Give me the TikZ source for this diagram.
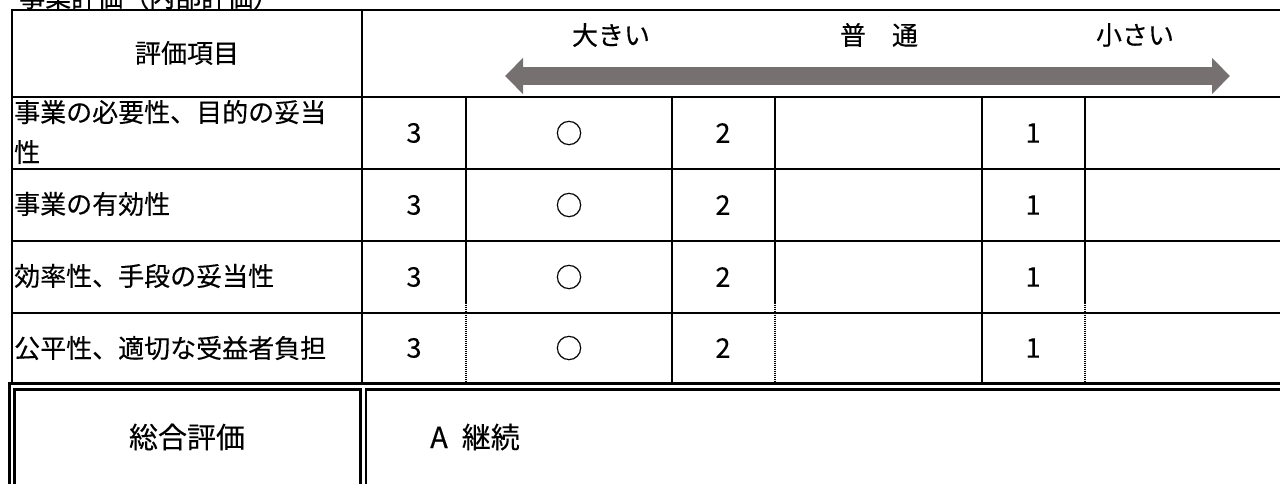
\documentclass[tikz,border=0pt]{standalone}
\usepackage{fontspec}
\setmainfont{Noto Sans CJK JP}[FakeBold=0.25]
\usetikzlibrary{arrows.meta}
\definecolor{arrowgray}{RGB}{118,113,112}
\tikzset{
  tline/.style={line width=2.6pt},
  dotline/.style={line width=2.4pt, dash pattern=on 1.2pt off 0.8pt},
  dblline/.style={line width=2.6pt},
  txt/.style={inner sep=0pt, font=\fontsize{26}{40}\selectfont},
  numtxt/.style={inner sep=0pt, font=\fontsize{27}{30}\selectfont},
  bigtxt/.style={inner sep=0pt, font=\fontsize{29}{32}\selectfont},
  scalearrow/.style={line width=18pt, color=arrowgray,
    {Triangle[length=18pt,width=35pt]}-{Triangle[length=18pt,width=35pt]}}
}
\begin{document}
\begin{tikzpicture}[x=1pt,y=-1pt]
\useasboundingbox (0,0) rectangle (1280,484);
\clip (0,0) rectangle (1280,484);
\fill[white] (0,0) rectangle (1280,484);

% title (cut off at the top)
\node[txt, anchor=base west] (title) at (19,7) {事業評価（内部評価）};

% upper table frame
\draw[tline] (12,383) -- (12,10) -- (1285,10);
\draw[tline] (362,10) -- (362,383);
\foreach \yy in {97,169,241,313}{
  \draw[tline] (12,\yy) -- (1285,\yy);
}
\foreach \xx in {672,982}{
  \draw[tline] (\xx,97) -- (\xx,383);
}
\foreach \xx in {466,775,1085}{
  \draw[dotline] (\xx,98.5) -- (\xx,383);
}

% bottom double-ruled section
\draw[dblline] (9.5,490) -- (9.5,383.5) -- (1285,383.5);
\draw[dblline] (14.5,490) -- (14.5,389.5) -- (360.5,389.5) -- (360.5,490);
\draw[dblline] (366,490) -- (366,389.5) -- (1285,389.5);

% header
\node[txt] (hitem) at (187,53) {評価項目};
\node[txt] (hbig) at (611,35) {大きい};
\node[txt] (hmid) at (879,35) {普　通};
\node[txt] (hsmall) at (1135,35) {小さい};
\coordinate (aL) at (505,76);
\coordinate (aR) at (1230,76);
\draw[scalearrow] (aL) -- (aR);

% rows
\node[txt, anchor=west, align=left] (r1) at (14,132) {事業の必要性、目的の妥当\\性};
\node[txt, anchor=west] (r2) at (14,204) {事業の有効性};
\node[txt, anchor=west] (r3) at (14,276) {効率性、手段の妥当性};
\node[txt, anchor=west] (r4) at (14,348) {公平性、適切な受益者負担};

\foreach \yy/\nm in {133/a,205/b,277/c,348/d}{
  \node[numtxt] (three\nm) at (414,\yy) {3};
  \node[numtxt] (circ\nm) at (569,\yy) {○};
  \node[numtxt] (two\nm) at (723,\yy) {2};
  \node[numtxt] (one\nm) at (1033,\yy) {1};
}

% overall evaluation
\node[bigtxt] (overall) at (187,437) {総合評価};
\node[bigtxt, anchor=west] (result) at (430,437) {A\hspace{14pt}継続};
\end{tikzpicture}
\end{document}
